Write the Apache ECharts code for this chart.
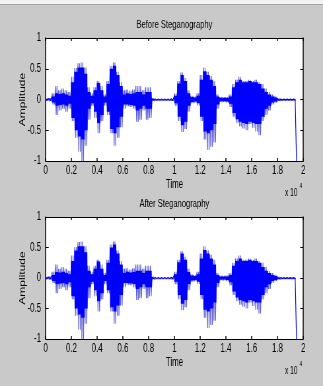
<!DOCTYPE html>
<html>
<head>
<meta charset="utf-8">
<script src="https://cdn.jsdelivr.net/npm/echarts@6/dist/echarts.min.js"></script>
<style>
html, body { margin: 0; padding: 0; background: #c9c9c9; overflow: hidden; }
/* the reference is squeezed sideways, so draw wider and squeeze it the same way */
#chart { width: 489px; height: 386px; transform: scaleX(0.6605); transform-origin: 0 0; }
</style>
</head>
<body>
<div id="chart"></div>
<script>
// speech signal envelope, one reading every 250 samples
var sampleStep = 250;
// outer peaks (thin light spikes)
var upperEnv = [0.02, 0.02, 0.10, 0.22, 0.15, 0.18, 0.15, 0.12, 0.37, 0.51,
    0.59, 0.60, 0.52, 0.20, 0.10, 0.20, 0.30, 0.22, 0.08, 0.30,
    0.55, 0.60, 0.45, 0.28, 0.15, 0.16, 0.14, 0.16, 0.22, 0.22,
    0.15, 0.20, 0.20, 0.02, 0.012, 0.012, 0.012, 0.012, 0.012, 0.015,
    0.10, 0.30, 0.44, 0.35, 0.15, 0.06, 0.05, 0.10, 0.40, 0.52,
    0.45, 0.38, 0.30, 0.08, 0.04, 0.04, 0.04, 0.08, 0.25, 0.32,
    0.37, 0.30, 0.30, 0.32, 0.30, 0.32, 0.28, 0.25, 0.18, 0.12,
    0.08, 0.05, 0.02, 0.01, 0.01, 0.01, 0.01, 0.01];
var lowerEnv = [-0.02, -0.03, -0.08, -0.25, -0.18, -0.15, -0.20, -0.15, -0.35, -0.62,
    -0.85, -1.00, -0.75, -0.33, -0.10, -0.30, -0.55, -0.35, -0.10, -0.25,
    -0.55, -0.75, -0.62, -0.45, -0.15, -0.11, -0.12, -0.15, -0.36, -0.33,
    -0.18, -0.33, -0.30, -0.02, -0.012, -0.012, -0.012, -0.012, -0.012, -0.015,
    -0.10, -0.35, -0.53, -0.48, -0.20, -0.06, -0.05, -0.10, -0.35, -0.65,
    -0.82, -0.77, -0.70, -0.15, -0.04, -0.04, -0.05, -0.12, -0.28, -0.38,
    -0.44, -0.47, -0.50, -0.40, -0.46, -0.52, -0.58, -0.35, -0.25, -0.18,
    -0.08, -0.05, -0.02, -0.01, -0.01, -0.01, -0.01, -0.01];
// dense dark core
var coreUpper = [0.01, 0.015, 0.05, 0.10, 0.09, 0.10, 0.08, 0.06, 0.28, 0.45,
    0.52, 0.52, 0.42, 0.12, 0.06, 0.15, 0.27, 0.15, 0.05, 0.25,
    0.50, 0.55, 0.40, 0.22, 0.08, 0.10, 0.09, 0.10, 0.12, 0.12,
    0.08, 0.12, 0.12, 0.01, 0.008, 0.008, 0.008, 0.008, 0.008, 0.01,
    0.06, 0.26, 0.40, 0.30, 0.10, 0.04, 0.03, 0.06, 0.32, 0.46,
    0.40, 0.32, 0.22, 0.05, 0.025, 0.025, 0.025, 0.05, 0.20, 0.28,
    0.32, 0.28, 0.28, 0.30, 0.28, 0.28, 0.25, 0.18, 0.12, 0.08,
    0.05, 0.03, 0.012, 0.006, 0.006, 0.006, 0.006, 0.006];
var coreLower = [-0.01, -0.015, -0.05, -0.10, -0.09, -0.08, -0.10, -0.07, -0.30, -0.50,
    -0.60, -0.65, -0.50, -0.15, -0.06, -0.20, -0.38, -0.25, -0.05, -0.20,
    -0.48, -0.55, -0.45, -0.28, -0.08, -0.08, -0.09, -0.10, -0.18, -0.15,
    -0.10, -0.15, -0.15, -0.01, -0.008, -0.008, -0.008, -0.008, -0.008, -0.01,
    -0.06, -0.28, -0.42, -0.36, -0.10, -0.04, -0.03, -0.06, -0.28, -0.52,
    -0.55, -0.50, -0.40, -0.08, -0.025, -0.025, -0.03, -0.07, -0.22, -0.32,
    -0.36, -0.38, -0.40, -0.36, -0.38, -0.40, -0.40, -0.28, -0.15, -0.10,
    -0.05, -0.03, -0.012, -0.006, -0.006, -0.006, -0.006, -0.006];
var lastSample = 19480;
var lastValue = -1;

var xTickLabels = ['0', '0.2', '0.4', '0.6', '0.8', '1', '1.2', '1.4', '1.6', '1.8', '2'];
var yTickLabels = ['-1', '-0.5', '0', '0.5', '1'];
var plotTitles = ['Before Steganography', 'After Steganography'];

var fontFam = "'Liberation Sans', Arial, sans-serif";
var sx = 0.6605; // horizontal squeeze applied by css

// swing between the upper and lower readings, a few times per reading
function buildWave(up, low, swings, withTail) {
    var pts = [];
    var d = sampleStep / (swings * 2);
    for (var i = 0; i < up.length; i++) {
        for (var s = 0; s < swings; s++) {
            pts.push([i * sampleStep + 2 * s * d, up[i]]);
            pts.push([i * sampleStep + (2 * s + 1) * d, low[i]]);
        }
    }
    if (withTail) {
        pts.push([lastSample, 0]);
        pts.push([lastSample, lastValue]);
    }
    return pts;
}

var grids = [
    { left: 45.7 / sx, top: 38, width: 257.5 / sx, height: 123 },
    { left: 45.7 / sx, top: 217, width: 257.5 / sx, height: 122 }
];

var hLine = { show: true, onZero: false, lineStyle: { color: '#000', width: 1 } };
var vLine = { show: true, onZero: false, lineStyle: { color: '#000', width: 1.5 } };
var xTick = { show: true, inside: true, length: 3, lineStyle: { color: '#000', width: 1.5 } };
var yTick = { show: true, inside: true, length: 4.5, lineStyle: { color: '#000', width: 1 } };

var xAxes = [], yAxes = [], series = [], titles = [], graphics = [];
grids.forEach(function (g, k) {
    xAxes.push({
        type: 'value', gridIndex: k, position: 'bottom', min: 0, max: 20000, interval: 2000,
        axisLine: hLine, axisTick: xTick, splitLine: { show: false },
        axisLabel: {
            color: '#000', fontSize: 12, fontFamily: fontFam, margin: 4,
            formatter: function (v) { return xTickLabels[Math.round(v / 2000)]; }
        },
        name: 'Time', nameLocation: 'middle', nameGap: 18, nameMoveOverlap: false,
        nameTextStyle: { color: '#000', fontSize: 12, fontFamily: fontFam }
    });
    xAxes.push({
        type: 'value', gridIndex: k, position: 'top', min: 0, max: 20000, interval: 2000,
        axisLine: hLine, axisTick: xTick, axisLabel: { show: false }, splitLine: { show: false }
    });
    yAxes.push({
        type: 'value', gridIndex: k, position: 'left', min: -1, max: 1, interval: 0.5,
        axisLine: vLine, axisTick: yTick, splitLine: { show: false },
        axisLabel: {
            color: '#000', fontSize: 12, fontFamily: fontFam, margin: 7,
            formatter: function (v) { return yTickLabels[Math.round((v + 1) / 0.5)]; }
        },
        name: 'Amplitude', nameLocation: 'middle', nameRotate: 90, nameGap: 29, nameMoveOverlap: false,
        nameTextStyle: { color: '#000', fontSize: 12, fontFamily: fontFam }
    });
    yAxes.push({
        type: 'value', gridIndex: k, position: 'right', min: -1, max: 1, interval: 0.5,
        axisLine: vLine, axisTick: yTick, axisLabel: { show: false }, splitLine: { show: false }
    });
    series.push({
        type: 'line', xAxisIndex: k * 2, yAxisIndex: k * 2,
        data: buildWave(upperEnv, lowerEnv, 2, false),
        showSymbol: false, symbol: 'none', sampling: null, clip: true, silent: true,
        lineStyle: { color: '#5a5ad6', width: 1.2 }
    });
    series.push({
        type: 'line', xAxisIndex: k * 2, yAxisIndex: k * 2,
        data: buildWave(coreUpper, coreLower, 5, true),
        showSymbol: false, symbol: 'none', sampling: null, clip: true, silent: true,
        lineStyle: { color: '#0000ff', width: 1.2 }
    });
    titles.push({
        text: plotTitles[k], left: 174.4 / sx, top: g.top - 19.5, textAlign: 'center', padding: 0,
        textStyle: { color: '#000', fontSize: 11.5, fontWeight: 'normal', fontFamily: fontFam }
    });
    var base = g.top + g.height;
    graphics.push({
        type: 'text', x: 285 / sx, y: base + 32,
        style: { text: 'x 10', fill: '#000', font: '10px ' + fontFam, verticalAlign: 'middle' }
    });
    graphics.push({
        type: 'text', x: 299.5 / sx, y: base + 25,
        style: { text: '4', fill: '#000', font: '7px ' + fontFam, verticalAlign: 'middle' }
    });
});

// light strip and rule along the top edge
graphics.push({ type: 'rect', shape: { x: 0, y: 0, width: 489, height: 4 }, style: { fill: '#f2f2f2' } });
graphics.push({ type: 'rect', shape: { x: 0, y: 4, width: 489, height: 1 }, style: { fill: '#a4a4a4' } });

grids.forEach(function (g) {
    g.show = true;
    g.backgroundColor = '#ffffff';
    g.borderWidth = 0;
    g.outerBoundsMode = 'none';
    g.containLabel = false;
});

var myChart = echarts.init(document.getElementById('chart'));
var option = {
    backgroundColor: '#c9c9c9',
    animation: false,
    title: titles,
    grid: grids,
    xAxis: xAxes,
    yAxis: yAxes,
    series: series,
    graphic: graphics
};
myChart.setOption(option);
</script>
</body>
</html>
